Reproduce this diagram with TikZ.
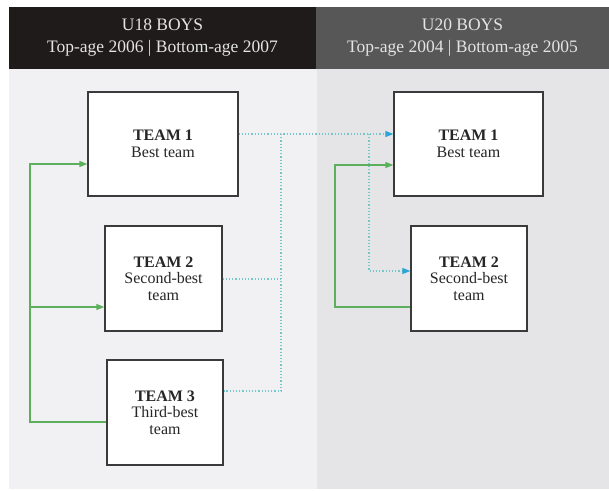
\documentclass[tikz,border=0pt]{standalone}
\usepackage{fontspec}
\setmainfont{Liberation Serif}
\usetikzlibrary{arrows.meta,calc}
\definecolor{hdrL}{HTML}{1F1B1B}
\definecolor{hdrR}{HTML}{575757}
\definecolor{bodyL}{HTML}{F1F1F3}
\definecolor{bodyR}{HTML}{E5E5E7}
\definecolor{hdrtxt}{HTML}{E4E4E4}
\definecolor{gcol}{HTML}{5CB05C}
\definecolor{dcol}{HTML}{74C6CA}
\definecolor{acol}{HTML}{2AA6D6}
\definecolor{boxline}{HTML}{3A3A3A}
\tikzset{
  hdr/.style={fill=#1, text=hdrtxt, minimum height=62pt, inner sep=0pt, align=center,
    font=\fontsize{17.5}{22}\selectfont},
  teambox/.style={draw=boxline, fill=white, line width=1.3pt, inner sep=0pt, align=center,
    font=\fontsize{16}{16.5}\selectfont, text=black!85},
  gline/.style={draw=gcol, line width=1.3pt},
  garrow/.style={gline, -{Triangle[length=8pt,width=6pt,color=gcol]}},
  dline/.style={draw=dcol, line width=1.2pt, dash pattern=on 1.2pt off 2pt},
  darrow/.style={dline, -{Triangle[length=8pt,width=6pt,color=acol]}}
}
\begin{document}
\begin{tikzpicture}[x=1pt,y=-1pt]
\useasboundingbox (0,0) rectangle (609,490);
% panels
\fill[bodyL] (9,69) rectangle (317,489);
\fill[bodyR] (317,69) rectangle (609,489);
% headers
\node[hdr=hdrL, minimum width=307pt] (h1) at (162.5,38) {U18 BOYS\\Top-age 2006 | Bottom-age 2007};
\node[hdr=hdrR, minimum width=293pt] (h2) at (462.5,38) {U20 BOYS\\Top-age 2004 | Bottom-age 2005};
% boxes
\node[teambox, minimum width=150pt, minimum height=104pt] (t1l) at (163,144) {\textbf{TEAM 1}\\Best team};
\node[teambox, minimum width=117pt, minimum height=105pt] (t2l) at (163.5,278.5) {\textbf{TEAM 2}\\Second-best\\team};
\node[teambox, minimum width=116pt, minimum height=105pt] (t3l) at (165,412.5) {\textbf{TEAM 3}\\Third-best\\team};
\node[teambox, minimum width=149pt, minimum height=104pt] (t1r) at (468.5,144) {\textbf{TEAM 1}\\Best team};
\node[teambox, minimum width=116pt, minimum height=105pt] (t2r) at (469,278.5) {\textbf{TEAM 2}\\Second-best\\team};
% green connectors
\coordinate (gA) at (30,164);
\coordinate (gB) at (30,307);
\coordinate (gC) at (30,422);
\draw[garrow] (t3l.west |- gC) -- (gC) |- (t1l.west |- gA);
\draw[garrow] (gB) -- (t2l.west |- gB);
\coordinate (gD) at (335,165);
\coordinate (gE) at (335,307);
\draw[garrow] (t2r.west |- gE) -- (gE) |- (t1r.west |- gD);
% dotted connectors
\coordinate (dA) at (281,134);
\coordinate (dB) at (369,134);
\coordinate (dC) at (369,271);
\coordinate (dD) at (281,391);
\coordinate (dE) at (281,279);
\draw[darrow] (t1l.east |- dA) -- (t1r.west |- dA);
\draw[dline] (dA) -- (dD) -- (t3l.east |- dD);
\draw[dline] (t2l.east |- dE) -- (dE);
\draw[darrow] (dB) -- (dC) -- (t2r.west |- dC);
\end{tikzpicture}
\end{document}
